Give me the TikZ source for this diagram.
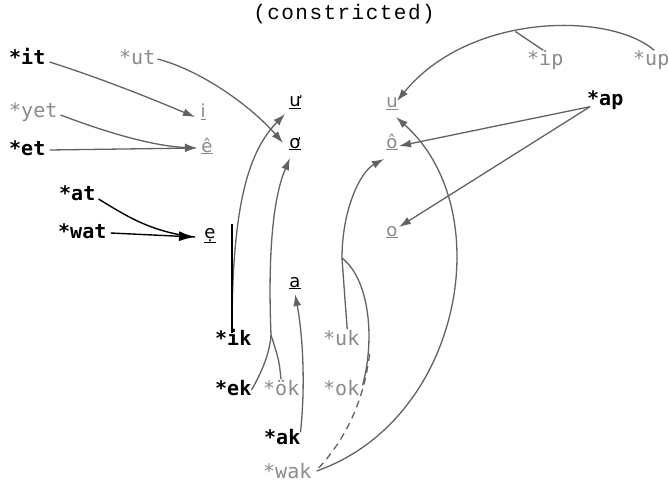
\documentclass[tikz,border=0pt]{standalone}
\usepackage{fontspec}
\setmainfont{DejaVu Sans}
\newfontfamily\labfont{DejaVu Sans Mono}
\newfontfamily\ttlfont[LetterSpace=7]{Liberation Mono}
\usetikzlibrary{arrows.meta,calc}
\definecolor{pg}{HTML}{8A8A8A}
\definecolor{lg}{HTML}{626262}
\tikzset{
  lbk/.style={inner sep=0pt, anchor=west, text height=14pt, text depth=3pt,
    font=\labfont\bfseries\fontsize{20}{22}\selectfont, text=black},
  lgy/.style={inner sep=0pt, anchor=west, text height=14pt, text depth=3pt,
    font=\labfont\fontsize{20}{22}\selectfont, text=pg},
  tgk/.style={inner sep=0pt, anchor=base, font=\fontsize{18}{20}\selectfont, text=black},
  tgg/.style={inner sep=0pt, anchor=base, font=\fontsize{18}{20}\selectfont, text=pg},
  garr/.style={draw=lg, line width=1.3pt, -{Latex[length=12pt,width=8pt]}},
  gline/.style={draw=lg, line width=1.3pt},
  bline/.style={draw=black, line width=1.4pt},
}
\begin{document}
\begin{tikzpicture}[x=1pt,y=-1pt]
\useasboundingbox (0,0) rectangle (669,484);
% title
\node[inner sep=0pt, font=\ttlfont\fontsize{21}{23}\selectfont] (title) at (344,14) {(constricted)};
% source labels
\node[lbk] (it) at (9,59) {*it};
\node[lgy] (ut) at (119,59) {*ut};
\node[lgy] (yet) at (9,112) {*yet};
\node[lbk] (et) at (9,150) {*et};
\node[lbk] (at) at (59,195) {*at};
\node[lbk] (wat) at (58,233) {*wat};
\node[lbk] (ap) at (587,100) {*ap};
\node[lgy] (ip) at (527,60) {*ip};
\node[lgy] (up) at (633,60) {*up};
\node[lbk] (ik) at (215,340) {*ik};
\node[lgy] (uk) at (323,340) {*uk};
\node[lbk] (ek) at (215,390) {*ek};
\node[lgy] (ok2) at (263,390) {*ök};
\node[lgy] (ok) at (323,390) {*ok};
\node[lbk] (ak) at (264,439) {*ak};
\node[lgy] (wak) at (263,473) {*wak};
% target vowels
\node[tgg] (i) at (203,118) {\underline{i}};
\node[tgg] (ee) at (207,152) {\underline{ê}};
\node[tgk] (ed) at (210,238) {\underline{ẹ}};
\node[tgk] (uw) at (295,107) {\underline{ư}};
\node[tgk] (ow) at (295,148) {\underline{ơ}};
\node[tgg] (u) at (392,108) {\underline{u}};
\node[tgg] (oo) at (392,148) {\underline{ô}};
\node[tgg] (o) at (392,236) {\underline{o}};
\node[tgk] (a) at (295,287) {\underline{a}};
% arrow tips and joins
\coordinate (ti) at (195,117);
\coordinate (te) at (197,148);
\coordinate (ted) at (195,237);
\coordinate (tuw) at (285,114);
\coordinate (tow1) at (283,143);
\coordinate (tow2) at (290,158);
\coordinate (tu1) at (397,101);
\coordinate (tu2) at (396,117);
\coordinate (too1) at (384,159);
\coordinate (too2) at (399,146);
\coordinate (to) at (399,227);
\coordinate (ta) at (295,294);
\coordinate (kx) at (232,224);
\coordinate (J2) at (271,335);
\coordinate (J1) at (342,258);
\coordinate (dj) at (370,350);
% left group
\draw[garr] ($(it.east)+(4,3)$) .. controls (100,78) and (150,98) .. (ti);
\draw[garr] ($(ut.east)+(2,0)$) .. controls (200,70) and (250,105) .. (tow1);
\draw[garr] ($(yet.east)+(3,3)$) .. controls (100,130) and (150,146) .. (te);
\draw[garr] ($(et.east)+(4,0)$) -- (te);
\draw[bline] ($(at.east)+(3,4)$) .. controls (125,215) and (150,232) .. (ted);
\draw[bline, -{Latex[length=16pt,width=10pt]}] ($(wat.east)+(4,0)$) -- (ted);
% *ik -> u'
\draw[garr] (kx |- ik.north) .. controls (232,200) and (250,150) .. (tuw);
\draw[bline] (kx) -- ($(kx |- ik.north)+(0,2)$);
% *ek, *ök -> o'
\draw[gline] (ek.east) .. controls (262,372) and (270,352) .. (J2);
\draw[gline] ($(ok2.north west)+(18,-2)$) .. controls (279,360) .. (J2);
\draw[garr] (J2) .. controls (268,260) and (272,200) .. (tow2);
% *ak -> a
\draw[garr] ($(ak.north east)+(0,2)$) .. controls (306,380) and (302,330) .. (ta);
% *uk, *ok -> ô
\draw[gline] ($(uk.north)+(6,-2)$) .. controls (345,300) .. (J1);
\draw[gline] ($(ok.north east)+(3,4)$) .. controls (375,340) and (370,280) .. (J1);
\draw[garr] (J1) .. controls (342,210) and (360,172) .. (too1);
% *wak -> u
\draw[garr] ($(wak.east)+(5,-2)$) .. controls (462,420) and (500,210) .. (tu2);
\draw[gline, dash pattern=on 7pt off 5pt] ($(wak.east)+(7,-5)$) .. controls (345,440) and (365,400) .. (dj);
% *ip, *up -> u
\draw[garr] ($(up.north)+(3,-1)$) .. controls (610,12) and (470,12) .. coordinate[pos=0.57] (arcj) (tu1);
\draw[gline] ($(ip.north)+(-2,-1)$) -- (arcj);
% *ap -> ô, o
\draw[garr] ($(ap.south west)+(3,-2)$) -- (too2);
\draw[garr] ($(ap.south west)+(3,-2)$) -- (to);
\end{tikzpicture}
\end{document}
